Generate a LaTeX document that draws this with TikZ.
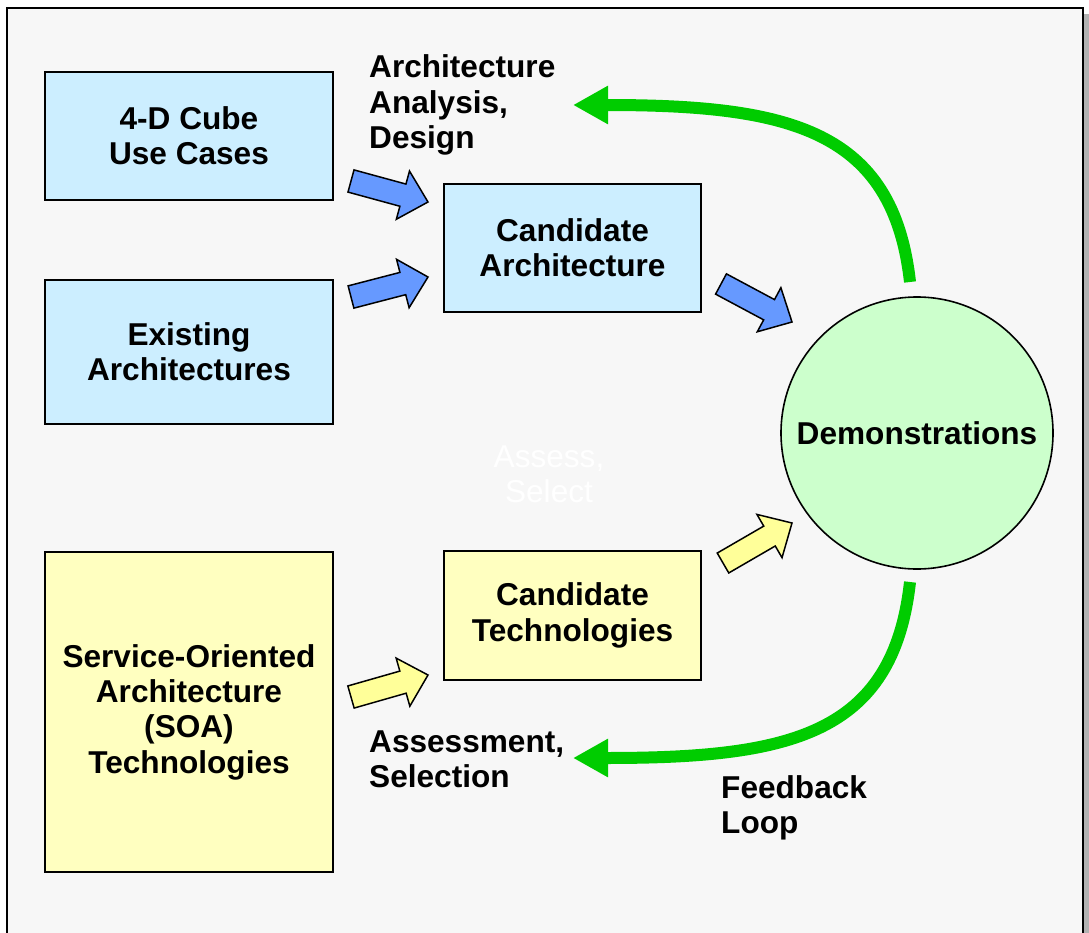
\documentclass[tikz,border=0pt]{standalone}
\usepackage{fontspec}
\setmainfont{Liberation Sans}
\usetikzlibrary{calc,arrows.meta}
\definecolor{bgc}{RGB}{247,247,247}
\definecolor{boxblue}{RGB}{204,238,255}
\definecolor{boxyellow}{RGB}{255,255,192}
\definecolor{arrblue}{RGB}{102,153,255}
\definecolor{arryellow}{RGB}{255,255,153}
\definecolor{circgreen}{RGB}{204,255,204}
\definecolor{loopgreen}{RGB}{0,204,0}
\newcommand\blockarrow[3]{%
  \path let \p1=($(#2)-(#1)$), \n1={atan2(\y1,\x1)}, \n2={veclen(\x1,\y1)} in
    \pgfextra{\xdef\baang{\n1}\xdef\balen{\n2}};
  \begin{scope}[shift={(#1)}, rotate=\baang]
    \draw[blockarr, fill=#3] (0pt,-11.5pt) -- ({\balen-26pt},-11.5pt) -- ({\balen-26pt},-25pt)
      -- (\balen,0pt) -- ({\balen-26pt},25pt) -- ({\balen-26pt},11.5pt) -- (0pt,11.5pt) -- cycle;
  \end{scope}}
\tikzset{
  box/.style={draw=black, line width=1.6pt, inner sep=0pt, align=center,
    font=\bfseries\fontsize{31.6}{35.3}\selectfont},
  lbl/.style={anchor=west, align=left, inner sep=0pt,
    font=\bfseries\fontsize{31.6}{35.3}\selectfont},
  blockarr/.style={draw=black, line width=1.5pt, line join=miter},
  loop/.style={draw=loopgreen, line width=12pt, -{Triangle[length=35pt,width=36pt]}},
}
\begin{document}
\begin{tikzpicture}[x=1pt,y=-1pt]
\useasboundingbox (0,0) rectangle (1089,933);
\fill[white] (0,0) rectangle (1089,933);
\fill[gray!60] (1084,14) rectangle (1089,950);
\draw[line width=2pt, fill=bgc] (7,8) rectangle (1083,950);

\node[box, fill=boxblue, minimum width=288pt, minimum height=128pt] (cube) at (189,136) {4-D Cube\\Use Cases};
\node[box, fill=boxblue, minimum width=288pt, minimum height=144pt] (exist) at (189,352) {Existing\\Architectures};
\node[box, fill=boxblue, minimum width=257pt, minimum height=128pt] (cand) at (572.5,248) {Candidate\\Architecture};
\node[box, fill=boxyellow, minimum width=288pt, minimum height=320pt] (soa) at (189,712) {Service-Oriented\\Architecture\\(SOA)\\Technologies};
\node[box, fill=boxyellow, minimum width=257pt, minimum height=129pt] (tech) at (572.5,615.5) {Candidate\\Technologies};
\node[box, circle, fill=circgreen, minimum size=272pt] (demo) at (917,433) {Demonstrations};

\node[lbl] (aad) at (369,105) {Architecture\\Analysis,\\Design};
\node[lbl] (asel) at (369,759) {Assessment,\\Selection};
\node[lbl] (fbl) at (721,808) {Feedback\\Loop};
\node[align=center, inner sep=0pt, text=white, font=\fontsize{31.6}{35.3}\selectfont] (as) at (549,474) {Assess,\\Select};

\coordinate (a1s) at (351,181); \coordinate (a1e) at (428,202);
\coordinate (a2s) at (351,297); \coordinate (a2e) at (428,277);
\coordinate (a3s) at (721,284); \coordinate (a3e) at (792,322);
\coordinate (a4s) at (723,563); \coordinate (a4e) at (792,523);
\coordinate (a5s) at (351,697); \coordinate (a5e) at (428,675);
\blockarrow{a1s}{a1e}{arrblue}
\blockarrow{a2s}{a2e}{arrblue}
\blockarrow{a3s}{a3e}{arrblue}
\blockarrow{a4s}{a4e}{arryellow}
\blockarrow{a5s}{a5e}{arryellow}

\coordinate (g1s) at (910,282); \coordinate (g1e) at (573,105);
\coordinate (g2s) at (910,582); \coordinate (g2e) at (573,758);
\draw[loop] (g1s) .. controls (893,130) and (790,105) .. (g1e);
\draw[loop] (g2s) .. controls (893,735) and (790,758) .. (g2e);
\end{tikzpicture}
\end{document}
